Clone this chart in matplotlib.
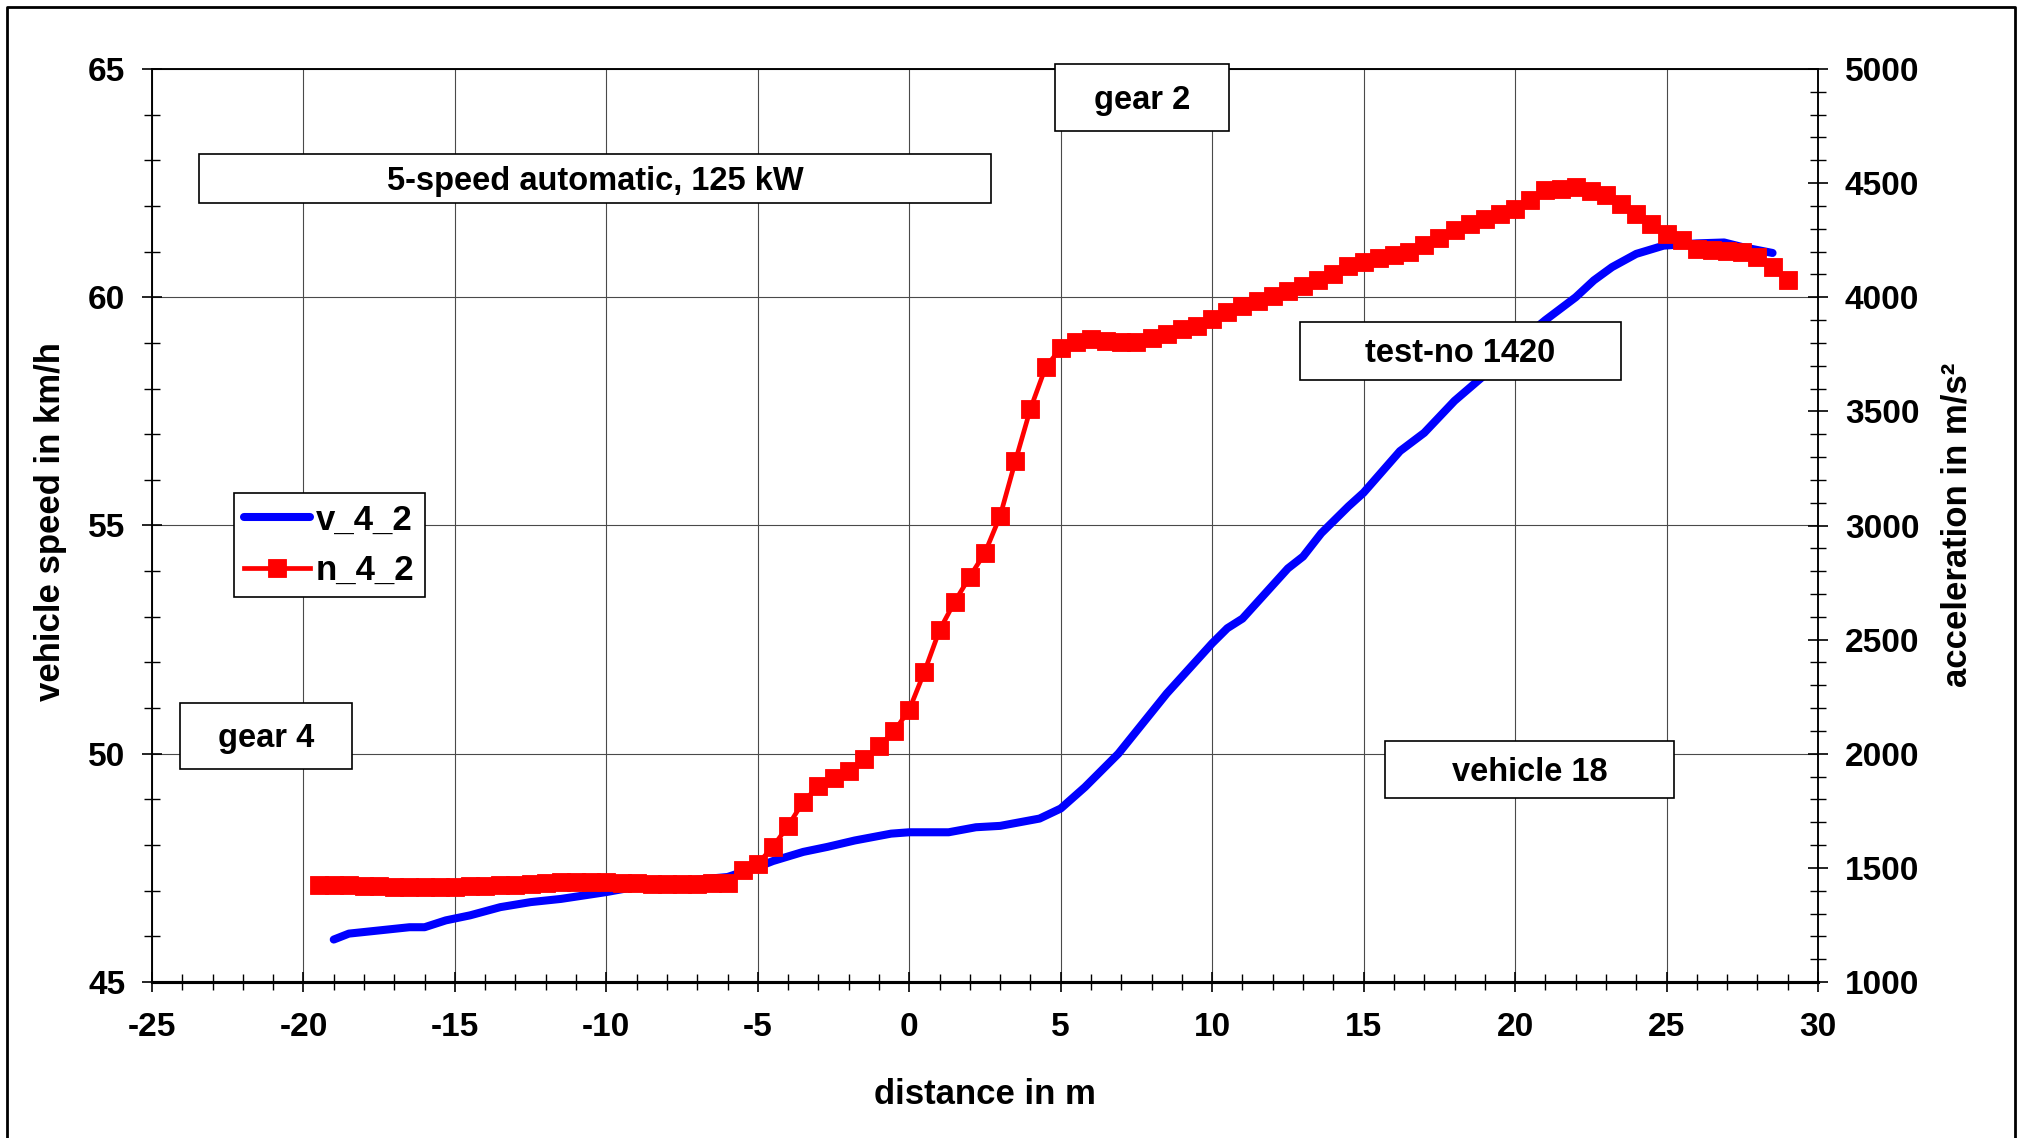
import matplotlib
matplotlib.use('Agg')
import matplotlib.pyplot as plt
from matplotlib.ticker import MultipleLocator
from matplotlib.patches import Rectangle
from matplotlib.lines import Line2D

# ---------------- data ----------------
v_dist = [-19.0, -18.5, -17.5, -16.5, -16.0, -15.3, -14.5, -13.5, -12.5, -11.5,
          -10.0, -9.0, -8.0, -7.0, -6.0, -5.0, -4.5, -3.5, -2.7, -1.8,
          -0.6, 0.0, 1.3, 2.2, 3.0, 4.3, 5.0, 5.8, 6.9, 8.5,
          10.0, 10.5, 11.0, 12.5, 13.0, 13.6, 14.5, 15.0, 16.2, 17.0,
          18.0, 19.0, 20.0, 21.0, 22.0, 22.6, 23.2, 24.0, 24.9, 26.0,
          26.9, 27.5, 28.5]
v_4_2 = [45.93, 46.06, 46.13, 46.20, 46.20, 46.35, 46.46, 46.64, 46.75, 46.82,
         46.97, 47.09, 47.18, 47.24, 47.30, 47.52, 47.65, 47.85, 47.96, 48.10,
         48.25, 48.28, 48.28, 48.39, 48.42, 48.58, 48.80, 49.27, 50.00, 51.32,
         52.42, 52.75, 52.96, 54.06, 54.32, 54.83, 55.42, 55.72, 56.63, 57.03,
         57.73, 58.30, 58.95, 59.50, 60.00, 60.37, 60.66, 60.95, 61.13, 61.18,
         61.20, 61.10, 60.97]

n_dist = [-19.5, -19.0, -18.5, -18.0, -17.5, -17.0, -16.5, -16.0, -15.5, -15.0,
          -14.5, -14.0, -13.5, -13.0, -12.5, -12.0, -11.5, -11.0, -10.5, -10.0,
          -9.5, -9.0, -8.5, -8.0, -7.5, -7.0, -6.5, -6.0, -5.5, -5.0,
          -4.5, -4.0, -3.5, -3.0, -2.5, -2.0, -1.5, -1.0, -0.5, 0.0,
          0.5, 1.0, 1.5, 2.0, 2.5, 3.0, 3.5, 4.0, 4.5, 5.0,
          5.5, 6.0, 6.5, 7.0, 7.5, 8.0, 8.5, 9.0, 9.5, 10.0,
          10.5, 11.0, 11.5, 12.0, 12.5, 13.0, 13.5, 14.0, 14.5, 15.0,
          15.5, 16.0, 16.5, 17.0, 17.5, 18.0, 18.5, 19.0, 19.5, 20.0,
          20.5, 21.0, 21.5, 22.0, 22.5, 23.0, 23.5, 24.0, 24.5, 25.0,
          25.5, 26.0, 26.5, 27.0, 27.5, 28.0, 28.5, 29.0]
n_4_2 = [1425, 1424, 1423, 1421, 1420, 1418, 1417, 1416, 1416, 1417,
         1419, 1421, 1424, 1427, 1430, 1433, 1436, 1438, 1438, 1437,
         1435, 1433, 1431, 1430, 1430, 1431, 1432, 1434, 1492, 1518,
         1593, 1684, 1790, 1858, 1895, 1924, 1975, 2034, 2098, 2193,
         2359, 2542, 2666, 2776, 2881, 3042, 3281, 3511, 3693, 3776,
         3802, 3817, 3810, 3802, 3802, 3821, 3839, 3861, 3876, 3905,
         3934, 3963, 3985, 4007, 4029, 4051, 4077, 4100, 4135, 4154,
         4172, 4183, 4198, 4227, 4261, 4293, 4322, 4344, 4366, 4388,
         4425, 4469, 4476, 4483, 4464, 4450, 4410, 4366, 4322, 4278,
         4252, 4212, 4205, 4202, 4198, 4176, 4132, 4076]

series_labels = ['v_4_2', 'n_4_2']
box_texts = ['5-speed automatic, 125 kW', 'gear 2', 'test-no 1420', 'vehicle 18', 'gear 4']

# ---------------- figure ----------------
plt.rcParams['font.family'] = ['Liberation Sans', 'DejaVu Sans']
plt.rcParams['font.weight'] = 'bold'
plt.rcParams['axes.unicode_minus'] = False

W, H = 2021, 1138
fig = plt.figure(figsize=(W / 100, H / 100), dpi=100)


def fx(px):
    return px / W


def fy(py):
    return 1 - py / H


ax = fig.add_axes([fx(152), fy(982), (1818 - 152) / W, (982 - 69) / H])
ax2 = ax.twinx()

ax.set_xlim(-25, 30)
ax.set_ylim(45, 65)
ax2.set_ylim(1000, 5000)

ax.xaxis.set_major_locator(MultipleLocator(5))
ax.xaxis.set_minor_locator(MultipleLocator(1))
ax.yaxis.set_major_locator(MultipleLocator(5))
ax.yaxis.set_minor_locator(MultipleLocator(1))
ax2.yaxis.set_major_locator(MultipleLocator(500))
ax2.yaxis.set_minor_locator(MultipleLocator(100))

ax.grid(True, which='major', color='#4a4a4a', lw=0.8)

ax.tick_params(axis='x', which='major', direction='inout', length=15, width=1.2,
               pad=14, labelsize=24)
ax.tick_params(axis='x', which='minor', direction='inout', length=12, width=1.0)
ax.tick_params(axis='y', which='major', direction='inout', length=14.5, width=1.2,
               pad=12, labelsize=24)
ax.tick_params(axis='y', which='minor', direction='inout', length=12, width=1.0)
ax2.tick_params(axis='y', which='major', direction='inout', length=14.5, width=1.2,
                pad=12, labelsize=24)
ax2.tick_params(axis='y', which='minor', direction='inout', length=12, width=1.0)

for a in (ax, ax2):
    for s in ('left', 'right', 'top'):
        a.spines[s].set_linewidth(1.1)
    a.spines['bottom'].set_linewidth(2.2)

for lab in ax.get_xticklabels() + ax.get_yticklabels() + ax2.get_yticklabels():
    lab.set_fontweight('bold')

line_v, = ax.plot(v_dist, v_4_2, color='#0000ff', lw=5.8, solid_capstyle='round',
                  solid_joinstyle='round', label=series_labels[0])
line_n, = ax2.plot(n_dist, n_4_2, color='#ff0000', lw=3.4, marker='s', markersize=13,
                   markeredgewidth=0.6, markeredgecolor='#ff0000',
                   label=series_labels[1])

# axis labels
ax.set_xlabel('distance in m', fontsize=25, fontweight='bold')
ax.xaxis.label.set_va('center')
ax.xaxis.set_label_coords(fx(985), fy(1095), transform=fig.transFigure)
ax.set_ylabel('vehicle speed in km/h', fontsize=25, fontweight='bold')
ax.yaxis.label.set_va('center')
ax.yaxis.set_label_coords(fx(51), fy(522), transform=fig.transFigure)
ax2.set_ylabel('acceleration in m/s²', fontsize=25, fontweight='bold')
ax2.yaxis.label.set_va('center')
ax2.yaxis.set_label_coords(fx(1957), fy(525), transform=fig.transFigure)

# legend
leg = ax2.legend([line_v, line_n], series_labels, loc='upper left',
                 bbox_to_anchor=(fx(234), fy(493)), bbox_transform=fig.transFigure,
                 borderaxespad=0, frameon=True, fancybox=False, edgecolor='black',
                 framealpha=1, prop={'size': 25, 'weight': 'bold'},
                 handlelength=1.9, handletextpad=0.15, labelspacing=0.5,
                 borderpad=0.3, numpoints=1)
leg.get_frame().set_linewidth(1.2)

# text boxes (pixel geometry)
boxes = [(199, 154, 991, 203), (1055, 64, 1229, 131), (1300, 322, 1621, 380),
         (1385, 741, 1674, 798), (180, 703, 352, 769)]
for (x0, y0, x1, y1), txt in zip(boxes, box_texts):
    fig.add_artist(Rectangle((fx(x0), fy(y1)), (x1 - x0) / W, (y1 - y0) / H,
                             transform=fig.transFigure, facecolor='white',
                             edgecolor='black', lw=1.2, zorder=5))
    fig.text(fx((x0 + x1) / 2), fy((y0 + y1) / 2 + 3), txt, ha='center', va='center',
             fontsize=23.5, fontweight='bold', zorder=6)

# outer frame (bottom edge is off the picture)
fig.add_artist(Line2D([fx(6.5), fx(6.5), fx(2015), fx(2015)],
                      [0, fy(6.5), fy(6.5), 0], transform=fig.transFigure,
                      color='black', lw=2.0, zorder=7))

fig.savefig('out.png', dpi=100)
